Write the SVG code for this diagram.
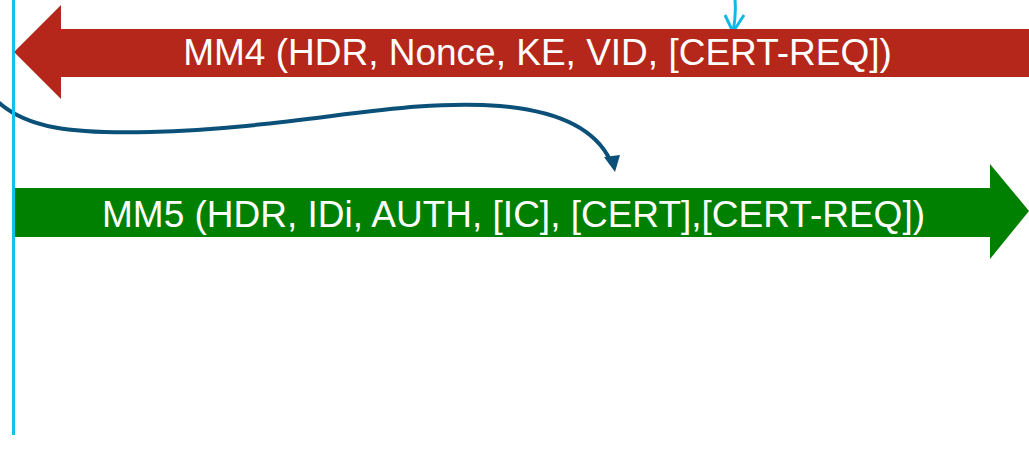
<svg xmlns="http://www.w3.org/2000/svg" width="1029" height="450" viewBox="0 0 1029 450">
  <style>
    .lbl { font-family: "Liberation Sans", Arial, sans-serif; font-size: 37px; fill: #ffffff; text-anchor: middle; }
  </style>
  <rect width="1029" height="450" fill="#ffffff"/>
  <g id="connectors">
    <!-- dark blue curved flow toward MM5 -->
    <path d="M -4,100 C 25,128 70,134 150,132 C 300,128 400,98 500,106 C 570,112 598,135 610,160" fill="none" stroke="#0b5078" stroke-width="4"/>
    <polygon points="615,172 604,157 620,155" fill="#0b5078"/>
    <!-- incoming cyan arrow at top -->
    <path d="M 735,0 C 736,12 735,22 733,32" fill="none" stroke="#12b8e6" stroke-width="3"/>
    <polyline points="725,15 733,32 744,15" fill="none" stroke="#12b8e6" stroke-width="3"/>
  </g>
  <g id="mm4">
    <polygon points="14,52 61,5 61,29 1029,29 1029,77 61,77 61,99" fill="#b5271a"/>
    <text class="lbl" x="537.5" y="65">MM4 (HDR, Nonce, KE, VID, [CERT-REQ])</text>
  </g>
  <g id="mm5">
    <polygon points="14,188 990,188 990,164 1029,211 990,259 990,237 14,237" fill="#008000"/>
    <text class="lbl" x="513.5" y="227">MM5 (HDR, IDi, AUTH, [IC], [CERT],[CERT-REQ])</text>
  </g>
  <g id="lifeline">
    <line x1="13.5" y1="0" x2="13.5" y2="435" stroke="#12c0ec" stroke-width="3"/>
  </g>
</svg>
